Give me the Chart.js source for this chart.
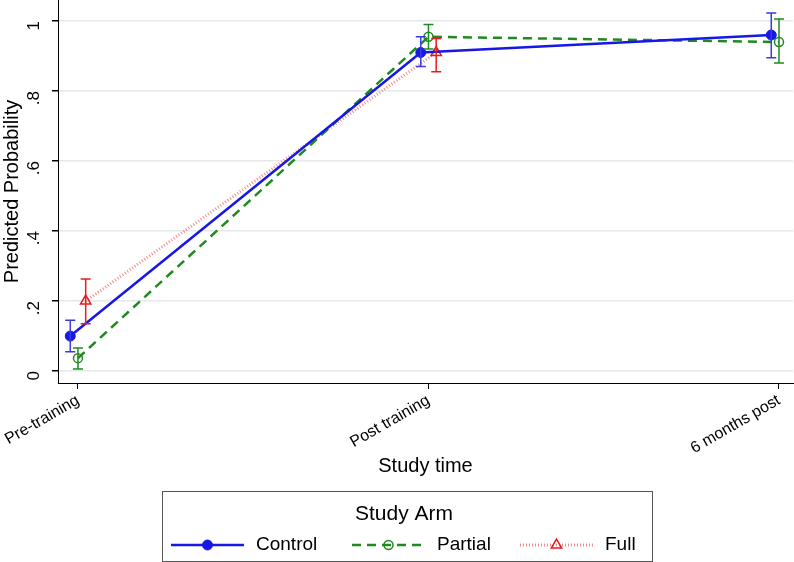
<!DOCTYPE html>
<html>
<head>
<meta charset="utf-8">
<script src="https://cdn.jsdelivr.net/npm/chart.js@4"></script>
<style>
  html, body { margin: 0; padding: 0; background: #fff; }
  #wrap { width: 794px; height: 562px; }
</style>
</head>
<body>
<div id="wrap"><canvas id="myChart" width="794" height="562"></canvas></div>
<script>
const categories = ["Pre-training", "Post training", "6 months post"];
const yTicks = [0, 0.2, 0.4, 0.6, 0.8, 1];
const yTickLabels = ["0", ".2", ".4", ".6", ".8", "1"];

const controlMean = [0.10, 0.91, 0.96];
const controlLow = [0.055, 0.87, 0.895];
const controlHigh = [0.145, 0.955, 1.023];

const partialMean = [0.037, 0.955, 0.94];
const partialLow = [0.006, 0.92, 0.88];
const partialHigh = [0.066, 0.99, 1.006];

const fullMean = [0.20, 0.91, null];
const fullLow = [0.135, 0.855, null];
const fullHigh = [0.263, 0.95, null];

const arms = ["Control", "Partial", "Full"];

// small horizontal shift so the arms do not overlap
const shift = 0.022;
const fontFam = "'Liberation Sans', Arial, sans-serif";

function toPoints(mean, low, high, off) {
    return mean.map((m, i) => ({ x: i + off, y: m, lo: low[i], hi: high[i] }));
}

const errorBars = {
    id: "errorBars",
    afterDatasetsDraw(chart) {
        const ctx = chart.ctx;
        const xs = chart.scales.x, ys = chart.scales.y;
        chart.data.datasets.forEach(ds => {
            ctx.save();
            ctx.strokeStyle = ds.barColor;
            ctx.lineWidth = 1.5;
            ds.data.forEach(p => {
                if (p.y == null) return;
                const px = xs.getPixelForValue(p.x);
                const y1 = ys.getPixelForValue(p.lo);
                const y2 = ys.getPixelForValue(p.hi);
                ctx.beginPath();
                ctx.moveTo(px, y1); ctx.lineTo(px, y2);
                ctx.moveTo(px - 5, y1); ctx.lineTo(px + 5, y1);
                ctx.moveTo(px - 5, y2); ctx.lineTo(px + 5, y2);
                ctx.stroke();
            });
            ctx.restore();
        });
    }
};

const boxLegend = {
    id: "boxLegend",
    afterDraw(chart) {
        const ctx = chart.ctx;
        const left = 162, top = 491, w = 490, h = 70;
        ctx.save();
        ctx.strokeStyle = "#555";
        ctx.lineWidth = 1;
        ctx.strokeRect(left + 0.5, top + 0.5, w, h);
        ctx.fillStyle = "#000";
        ctx.font = "21px " + fontFam;
        ctx.textAlign = "center";
        ctx.textBaseline = "middle";
        ctx.fillText("Study Arm", left + w / 2 - 3, top + 23);
        const rowY = top + 54;
        const starts = [171, 352, 520];
        chart.data.datasets.forEach((ds, i) => {
            const x0 = starts[i], x1 = x0 + 73;
            ctx.save();
            ctx.strokeStyle = ds.borderColor;
            ctx.lineWidth = ds.borderWidth;
            ctx.setLineDash(ds.borderDash || []);
            ctx.beginPath();
            ctx.moveTo(x0, rowY); ctx.lineTo(x1, rowY);
            ctx.stroke();
            ctx.setLineDash([]);
            ctx.fillStyle = ds.pointBackgroundColor;
            ctx.strokeStyle = ds.pointBorderColor;
            ctx.lineWidth = ds.pointBorderWidth;
            Chart.helpers.drawPoint(ctx, {
                pointStyle: ds.pointStyle, radius: ds.pointRadius,
                rotation: 0, borderWidth: ds.pointBorderWidth
            }, (x0 + x1) / 2, rowY);
            ctx.restore();
            ctx.fillStyle = "#000";
            ctx.textAlign = "left";
            ctx.font = "19px " + fontFam;
            ctx.fillText(ds.label, x1 + 12, rowY);
        });
        ctx.restore();
    }
};

const ctx = document.getElementById("myChart").getContext("2d");

new Chart(ctx, {
    type: "line",
    data: {
        datasets: [
            {
                label: arms[0],
                data: toPoints(controlMean, controlLow, controlHigh, -shift),
                borderColor: "#1818e6",
                barColor: "#3a3ae0",
                borderWidth: 2.5,
                pointStyle: "circle",
                pointRadius: 5,
                pointBackgroundColor: "#1818e6",
                pointBorderColor: "#1818e6",
                pointBorderWidth: 1,
                tension: 0
            },
            {
                label: arms[1],
                data: toPoints(partialMean, partialLow, partialHigh, 0),
                borderColor: "#1f8a1f",
                barColor: "#1f8a1f",
                borderWidth: 2.5,
                borderDash: [9, 6],
                pointStyle: "circle",
                pointRadius: 4.5,
                pointBackgroundColor: "rgba(255,255,255,0)",
                pointBorderColor: "#1f8a1f",
                pointBorderWidth: 1.5,
                tension: 0
            },
            {
                label: arms[2],
                data: toPoints(fullMean, fullLow, fullHigh, shift),
                borderColor: "#f28a8a",
                barColor: "#e81c1c",
                borderWidth: 3,
                borderDash: [1, 2],
                pointStyle: "triangle",
                pointRadius: 6,
                pointBackgroundColor: "rgba(255,255,255,0)",
                pointBorderColor: "#e81c1c",
                pointBorderWidth: 1.5,
                tension: 0
            }
        ]
    },
    options: {
        responsive: false,
        animation: false,
        spanGaps: false,
        layout: { autoPadding: false, padding: { top: 0, right: 1, bottom: 82, left: 0 } },
        plugins: {
            legend: { display: false },
            tooltip: { enabled: false }
        },
        scales: {
            x: {
                type: "linear",
                min: -0.057,
                max: 2.04,
                afterBuildTicks: (s) => { s.ticks = categories.map((c, i) => ({ value: i })); },
                afterFit: (s) => { s.height = 97; s.paddingLeft = 0; s.paddingRight = 0; },
                ticks: {
                    minRotation: 30,
                    maxRotation: 30,
                    padding: 2,
                    color: "#000",
                    font: { size: 16, family: fontFam },
                    callback: (v) => categories[v]
                },
                grid: { drawOnChartArea: false, color: "#000", tickLength: 6 },
                border: { display: true, color: "#000", width: 1 },
                title: {
                    display: true,
                    text: "Study time",
                    color: "#000",
                    padding: { top: 0, bottom: 2 },
                    font: { size: 20, family: fontFam }
                }
            },
            y: {
                min: -0.034,
                max: 1.06,
                afterBuildTicks: (s) => { s.ticks = yTicks.map(v => ({ value: v })); },
                afterFit: (s) => { s.width = 58; s.paddingTop = 0; s.paddingBottom = 0; },
                ticks: {
                    minRotation: 90,
                    maxRotation: 90,
                    padding: 18,
                    color: "#000",
                    font: { size: 17, family: fontFam },
                    callback: (v) => yTickLabels[yTicks.indexOf(v)]
                },
                grid: { color: "#e4eaea", lineWidth: 1.5, tickColor: "#000", tickLength: 6 },
                border: { display: true, color: "#000", width: 1 },
                title: {
                    display: true,
                    text: "Predicted Probability",
                    color: "#000",
                    padding: { top: 0, bottom: 0 },
                    font: { size: 20, family: fontFam }
                }
            }
        }
    },
    plugins: [errorBars, boxLegend]
});
</script>
</body>
</html>
